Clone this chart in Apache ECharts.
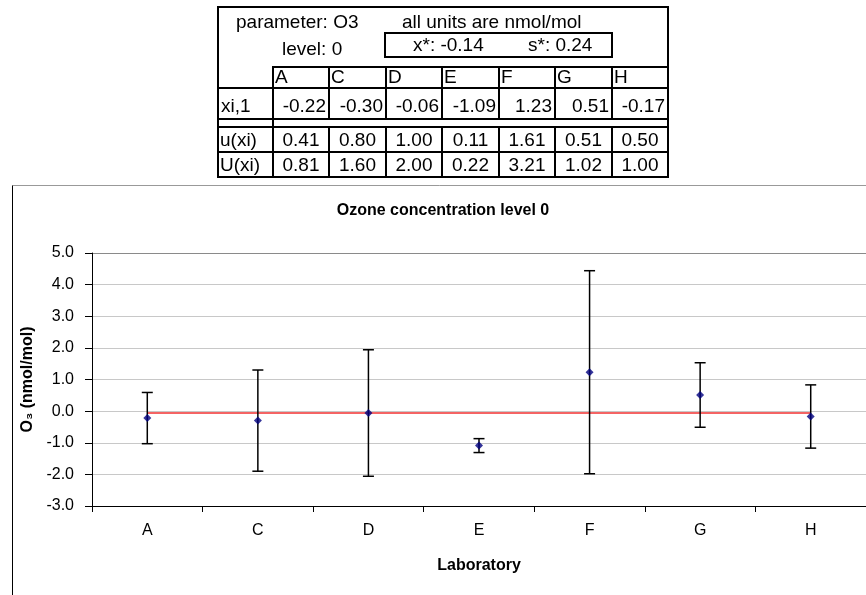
<!DOCTYPE html>
<html>
<head>
<meta charset="utf-8">
<title>Ozone concentration level 0</title>
<script src="https://cdn.jsdelivr.net/npm/echarts@6/dist/echarts.min.js"></script>
<style>
  html, body { margin: 0; padding: 0; background: #fff; }
  #wrap { position: relative; width: 866px; height: 595px; overflow: hidden; }
  #chart { position: absolute; left: 0; top: 0; width: 866px; height: 595px; }
  #table { position: absolute; left: 0; top: 0; width: 866px; height: 185px; z-index: 2;
           font-family: "Liberation Sans", Arial, sans-serif; color: #000; }
  .ln { position: absolute; background: #000; }
  .tx { position: absolute; height: 24px; line-height: 24px; font-size: 19px; white-space: nowrap; }
</style>
</head>
<body>
<div id="wrap">
  <div id="chart"></div>
  <div id="table"></div>
</div>
<script>
// Participating laboratories and their reported results (nmol/mol)
const categories = ['A', 'C', 'D', 'E', 'F', 'G', 'H'];
const labValues = [-0.22, -0.30, -0.06, -1.09, 1.23, 0.51, -0.17];   // xi,1
const stdUnc = [0.41, 0.80, 1.00, 0.11, 1.61, 0.51, 0.50];        // u(xi)
const expUnc = [0.81, 1.60, 2.00, 0.22, 3.21, 1.02, 1.00];        // U(xi)

// Assigned value and its standard deviation
const xStar = -0.14;
const sStar = 0.24;
// Level of the red reference line across the laboratories
const refLevel = [-0.05];

// Value axis range
const yMin = -3;
const yMax = 5;
const yStep = 1;

const parameterName = 'O3';
const levelName = '0';

// ---------- summary table above the chart ----------
const tbl = document.getElementById('table');
function line(x1, y1, x2, y2, w) {
  w = w || 2;
  const d = document.createElement('div');
  d.className = 'ln';
  if (y1 === y2) {
    d.style.left = (x1 - w / 2) + 'px';
    d.style.top = (y1 - w / 2) + 'px';
    d.style.width = (x2 - x1 + w) + 'px';
    d.style.height = w + 'px';
  } else {
    d.style.left = (x1 - w / 2) + 'px';
    d.style.top = (y1 - w / 2) + 'px';
    d.style.width = w + 'px';
    d.style.height = (y2 - y1 + w) + 'px';
  }
  tbl.appendChild(d);
}
function text(str, x, yc, align, width) {
  const d = document.createElement('div');
  d.className = 'tx';
  d.textContent = str;
  d.style.top = (yc - 12) + 'px';
  if (align === 'left') {
    d.style.left = x + 'px';
  } else {
    d.style.left = x + 'px';
    d.style.width = width + 'px';
    d.style.textAlign = align;
  }
  tbl.appendChild(d);
}

const colEdges = [218, 273, 329, 386, 442, 499, 555, 612, 668];
const T = { top: 7, bottom: 177, head: 67, headBot: 88, dbl1: 119, dbl2: 127, rowU: 152 };

// outer frame
line(218, T.top, 668, T.top);
line(218, T.bottom, 668, T.bottom);
line(218, T.top, 218, T.bottom);
line(668, T.top, 668, T.bottom);
// box holding x* and s*
line(385, 33, 612, 33);
line(385, 57, 612, 57);
line(385, 33, 385, 57);
line(612, 33, 612, 57);
// row separators
line(273, T.head, 668, T.head);
line(218, T.headBot, 668, T.headBot);
line(218, T.dbl1, 668, T.dbl1);
line(218, T.dbl2, 668, T.dbl2);
line(218, T.rowU, 668, T.rowU);
// column separators
line(273, T.head, 273, T.bottom);
for (let i = 2; i < colEdges.length - 1; i++) {
  line(colEdges[i], T.head, colEdges[i], T.dbl1);
  line(colEdges[i], T.dbl2, colEdges[i], T.bottom);
}

text('parameter: ' + parameterName, 236, 22, 'left');
text('level: ' + levelName, 282, 49, 'left');
text('all units are nmol/mol', 402, 22, 'left');
text('x*: ' + xStar.toFixed(2), 413, 45, 'left');
text('s*: ' + sStar.toFixed(2), 528, 45, 'left');
text('xi,1', 221, 106, 'left');
text('u(xi)', 220, 140, 'left');
text('U(xi)', 220, 165, 'left');
categories.forEach(function (c, i) {
  const x0 = colEdges[i + 1], x1 = colEdges[i + 2];
  text(c, x0 + 2, 77, 'left');
  text(labValues[i].toFixed(2), x0, 106, 'right', x1 - x0 - 3);
  text(stdUnc[i].toFixed(2), x0, 140, 'center', x1 - x0);
  text(expUnc[i].toFixed(2), x0, 165, 'center', x1 - x0);
});

// ---------- chart ----------
const chart = echarts.init(document.getElementById('chart'), null, { renderer: 'canvas' });

const barData = categories.map(function (c, i) {
  return [i, labValues[i], labValues[i] - expUnc[i], labValues[i] + expUnc[i]];
});
const pointData = categories.map(function (c, i) { return [c, labValues[i]]; });

const gridColors = [];
for (let v = yMin; v <= yMax; v += yStep) {
  gridColors.push(v === yMax ? '#8a8a8a' : '#c8c8c8');
}

const CAP = 5.5;

chart.setOption({
  animation: false,
  backgroundColor: '#ffffff',
  textStyle: { fontFamily: '"Liberation Sans", Arial, sans-serif', color: '#000' },
  title: {
    text: 'Ozone concentration level 0',
    left: 443,
    top: 203,
    textAlign: 'center',
    padding: 0,
    textStyle: { fontSize: 16, fontWeight: 'bold', color: '#000' }
  },
  graphic: [
    { type: 'line', shape: { x1: 12.5, y1: 185.5, x2: 866, y2: 185.5 }, style: { stroke: '#999', lineWidth: 1 } },
    { type: 'line', shape: { x1: 12.5, y1: 185.5, x2: 12.5, y2: 595 }, style: { stroke: '#000', lineWidth: 1 } }
  ],
  grid: { left: 92, top: 253, width: 788, height: 253 },
  xAxis: {
    type: 'category',
    data: categories,
    boundaryGap: true,
    axisLine: { onZero: false, lineStyle: { color: '#000', width: 1 } },
    axisTick: { show: true, length: 6, lineStyle: { color: '#000' } },
    axisLabel: { fontSize: 16, color: '#000', margin: 17 },
    splitLine: { show: false },
    name: 'Laboratory',
    nameLocation: 'middle',
    nameGap: 52,
    nameTextStyle: { fontSize: 16, fontWeight: 'bold', color: '#000' }
  },
  yAxis: {
    type: 'value',
    min: yMin,
    max: yMax,
    interval: yStep,
    axisLine: { show: true, onZero: false, lineStyle: { color: '#000', width: 1 } },
    axisTick: { show: true, length: 7, lineStyle: { color: '#000' } },
    axisLabel: {
      fontSize: 16, color: '#000', margin: 18,
      formatter: function (v) { return v.toFixed(1); }
    },
    splitLine: { show: true, lineStyle: { color: gridColors, width: 1 } },
    name: 'O\u2083 (nmol/mol)',
    nameLocation: 'middle',
    nameRotate: 90,
    nameGap: 55,
    nameTextStyle: { fontSize: 16, fontWeight: 'bold', color: '#000' }
  },
  series: [
    {
      type: 'custom',
      name: 'U(xi)',
      data: barData,
      z: 3,
      renderItem: function (params, api) {
        const x = api.value(0);
        const lo = api.coord([x, api.value(2)]);
        const hi = api.coord([x, api.value(3)]);
        const st = { stroke: '#000', lineWidth: 1.5 };
        return {
          type: 'group',
          children: [
            { type: 'line', shape: { x1: hi[0], y1: hi[1], x2: lo[0], y2: lo[1] }, style: st },
            { type: 'line', shape: { x1: hi[0] - CAP, y1: hi[1], x2: hi[0] + CAP, y2: hi[1] }, style: st },
            { type: 'line', shape: { x1: lo[0] - CAP, y1: lo[1], x2: lo[0] + CAP, y2: lo[1] }, style: st }
          ]
        };
      }
    },
    {
      type: 'scatter',
      name: 'xi,1',
      data: pointData,
      symbol: 'diamond',
      symbolSize: 8,
      z: 4,
      itemStyle: { color: '#000080' },
      markLine: {
        silent: true,
        symbol: 'none',
        label: { show: false },
        z: 2,
        lineStyle: { color: '#f03030', width: 1.5, type: 'solid' },
        data: [[
          { coord: [categories[0], refLevel[0]] },
          { coord: [categories[categories.length - 1], refLevel[0]] }
        ]]
      }
    }
  ]
});
</script>
</body>
</html>
